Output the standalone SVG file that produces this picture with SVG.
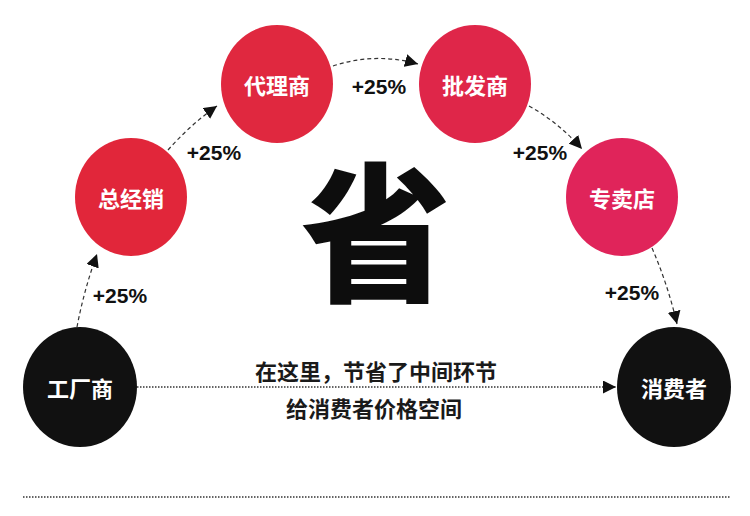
<svg xmlns="http://www.w3.org/2000/svg" width="750" height="516" viewBox="0 0 750 516">
<style>
.node text{font-family:"Noto Sans CJK SC","Noto Sans",sans-serif;font-weight:700;font-size:22px;fill:#fff;text-anchor:middle;dominant-baseline:central}
.pct{font-family:"Liberation Sans",Arial,sans-serif;font-weight:700;font-size:21px;fill:#111;text-anchor:middle;dominant-baseline:central}
.cap{font-family:"Noto Sans CJK SC",sans-serif;font-weight:700;font-size:22px;fill:#1a1a1a;text-anchor:middle;dominant-baseline:central}
.dash{fill:none;stroke:#333;stroke-width:1.2;stroke-dasharray:4 3}
.dot{fill:none;stroke:#333;stroke-width:1.5;stroke-dasharray:1.5 1.5}
</style>
<defs>
<marker id="ah" viewBox="0 0 10 10" refX="10" refY="5" markerWidth="13" markerHeight="13" markerUnits="userSpaceOnUse" orient="auto">
<path d="M0,0 L10,5 L0,10 z" fill="#111"/>
</marker>
</defs>
<rect width="750" height="516" fill="#fff"/>
<g id="connectors">
<path class="dash" d="M77,327 Q84,290 97,254" marker-end="url(#ah)"/>
<path class="dash" d="M168,150 Q190,125 217,106" marker-end="url(#ah)"/>
<path class="dash" d="M333,66 Q375,52 418,64" marker-end="url(#ah)"/>
<path class="dash" d="M529,106 Q558,122 582,149" marker-end="url(#ah)"/>
<path class="dash" d="M652,248 Q668,285 677,324" marker-end="url(#ah)"/>
<path class="dot" d="M137,387 L616,387" marker-end="url(#ah)"/>
</g>
<g id="n-factory" class="node"><ellipse cx="80" cy="387" rx="57" ry="60" fill="#111"/><text x="80" y="387">工厂商</text></g>
<g id="n-distributor" class="node"><ellipse cx="131" cy="197" rx="56" ry="59" fill="#e1263a"/><text x="131" y="197">总经销</text></g>
<g id="n-agent" class="node"><ellipse cx="277" cy="84" rx="56" ry="59" fill="#e0283f"/><text x="277" y="84">代理商</text></g>
<g id="n-wholesale" class="node"><ellipse cx="475" cy="84" rx="56" ry="59" fill="#df2649"/><text x="475" y="84">批发商</text></g>
<g id="n-store" class="node"><ellipse cx="622" cy="197" rx="56" ry="59" fill="#e0245a"/><text x="622" y="197">专卖店</text></g>
<g id="n-consumer" class="node"><ellipse cx="674" cy="387" rx="57" ry="60" fill="#111"/><text x="674" y="387">消费者</text></g>
<text class="pct" x="120" y="295">+25%</text>
<text class="pct" x="214" y="152">+25%</text>
<text class="pct" x="379" y="86">+25%</text>
<text class="pct" x="540" y="152">+25%</text>
<text class="pct" x="632" y="292">+25%</text>
<text x="376" y="290" font-family="Noto Sans CJK SC,sans-serif" font-weight="900" font-size="150" fill="#0d0d0d" text-anchor="middle">省</text>
<text class="cap" x="376" y="370">在这里，节省了中间环节</text>
<text class="cap" x="374" y="407">给消费者价格空间</text>
<path class="dot" d="M23,497 L731,497"/>
</svg>
